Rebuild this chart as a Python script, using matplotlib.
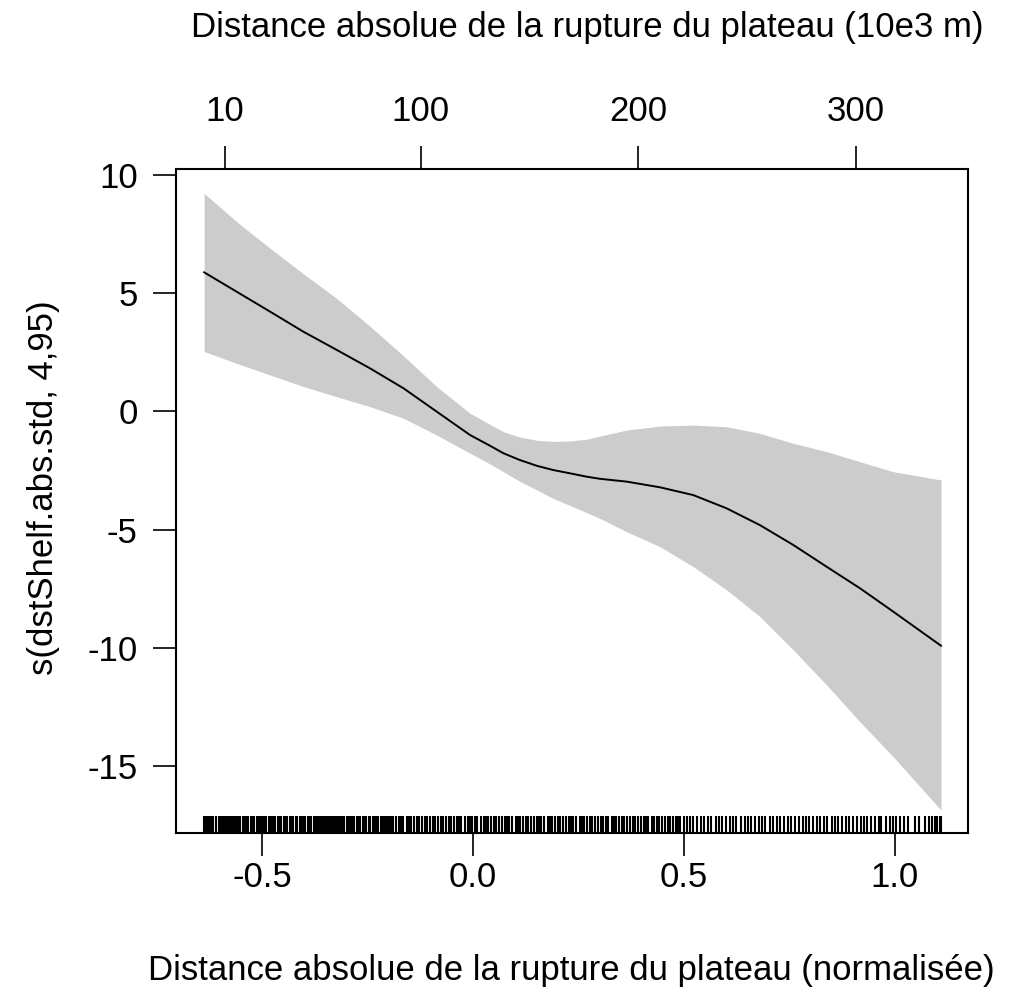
import matplotlib
matplotlib.use("Agg")
import matplotlib.pyplot as plt
import matplotlib.transforms as mtransforms
import numpy as np

plt.rcParams['font.family'] = ['Liberation Sans', 'DejaVu Sans']

# smooth term (normalised distance) and its confidence band
x_std = [-0.637, -0.560, -0.481, -0.402, -0.323, -0.244, -0.165, -0.086, -0.007,
         0.040, 0.072, 0.110, 0.151, 0.190, 0.230, 0.269, 0.300, 0.364, 0.443,
         0.522, 0.601, 0.680, 0.759, 0.838, 0.917, 0.996, 1.109]
fit = [5.88, 5.06, 4.22, 3.37, 2.60, 1.82, 0.98, -0.01, -1.00,
       -1.45, -1.77, -2.05, -2.30, -2.48, -2.62, -2.76, -2.85, -2.97, -3.21,
       -3.54, -4.10, -4.81, -5.65, -6.57, -7.48, -8.47, -9.91]
upper = [9.22, 8.02, 6.90, 5.82, 4.78, 3.60, 2.35, 1.05, -0.08,
         -0.55, -0.86, -1.08, -1.22, -1.27, -1.25, -1.18, -1.05, -0.79, -0.62,
         -0.58, -0.65, -0.93, -1.35, -1.70, -2.13, -2.55, -2.90]
lower = [2.53, 2.03, 1.54, 1.05, 0.62, 0.20, -0.29, -1.00, -1.77,
         -2.22, -2.55, -2.95, -3.32, -3.68, -3.98, -4.28, -4.52, -5.09, -5.72,
         -6.57, -7.55, -8.68, -10.09, -11.57, -13.13, -14.61, -16.86]

# rug of observations
rug_x = [
    -0.637, -0.633, -0.628, -0.624, -0.618, -0.615, -0.610, -0.603, -0.600, -0.595,
    -0.589, -0.586, -0.581, -0.576, -0.571, -0.567, -0.562, -0.556, -0.552, -0.546,
    -0.541, -0.538, -0.533, -0.527, -0.522, -0.518, -0.512, -0.508, -0.502, -0.498,
    -0.493, -0.490, -0.484, -0.478, -0.474, -0.469, -0.463, -0.459, -0.455, -0.448,
    -0.444, -0.440, -0.434, -0.430, -0.426, -0.420, -0.416, -0.411, -0.405, -0.402,
    -0.397, -0.391, -0.388, -0.383, -0.376, -0.373, -0.368, -0.363, -0.359, -0.352,
    -0.349, -0.344, -0.338, -0.335, -0.330, -0.325, -0.320, -0.314, -0.311, -0.306,
    -0.299, -0.296, -0.291, -0.286, -0.281, -0.275, -0.272, -0.267, -0.261, -0.257,
    -0.253, -0.247, -0.243, -0.238, -0.232, -0.229, -0.224, -0.218, -0.214, -0.209,
    -0.203, -0.200, -0.194, -0.189, -0.183, -0.175, -0.170, -0.165, -0.157, -0.151,
    -0.147, -0.139, -0.133, -0.128, -0.121, -0.113, -0.108, -0.103, -0.095, -0.091,
    -0.083, -0.077, -0.072, -0.064, -0.058, -0.053, -0.046, -0.038, -0.033, -0.028,
    -0.020, -0.013, -0.008, -0.002, 0.005, 0.010, 0.018, 0.025, 0.030, 0.036,
    0.043, 0.050, 0.055, 0.061, 0.068, 0.075, 0.081, 0.086, 0.093, 0.101,
    0.106, 0.111, 0.119, 0.126, 0.131, 0.137, 0.144, 0.151, 0.157, 0.162,
    0.169, 0.177, 0.182, 0.187, 0.195, 0.202, 0.207, 0.213, 0.220, 0.227,
    0.233, 0.238, 0.245, 0.253, 0.258, 0.263, 0.271, 0.278, 0.283, 0.289,
    0.296, 0.303, 0.309, 0.314, 0.321, 0.329, 0.334, 0.339, 0.347, 0.354,
    0.359, 0.365, 0.372, 0.379, 0.385, 0.390, 0.397, 0.405, 0.410, 0.415,
    0.423, 0.430, 0.435, 0.441, 0.448, 0.455, 0.461, 0.466, 0.473, 0.481,
    0.486, 0.491, 0.499, 0.508, 0.515, 0.521, 0.531, 0.541, 0.548, 0.556,
    0.565, 0.575, 0.582, 0.590, 0.600, 0.609, 0.617, 0.624, 0.634, 0.644,
    0.651, 0.659, 0.668, 0.678, 0.686, 0.693, 0.703, 0.712, 0.720, 0.728,
    0.737, 0.747, 0.754, 0.762, 0.772, 0.781, 0.789, 0.796, 0.806, 0.816,
    0.823, 0.831, 0.840, 0.850, 0.858, 0.865, 0.875, 0.884, 0.892, 0.900,
    0.909, 0.919, 0.926, 0.934, 0.944, 0.953, 0.961, 0.968, 0.978, 0.988,
    0.995, 1.003, 1.012, 1.022, 1.030, 1.048, 1.058, 1.072, 1.081, 1.088,
    1.094, 1.100, 1.106, 1.110]

# top axis: normalised value -> absolute distance
mean_d = 124.0
sd_d = 194.0
top_ticks = [10, 100, 200, 300]

fs = 25

fig = plt.figure(figsize=(10.10, 10.05), dpi=100)
ax = fig.add_axes([176 / 1010, 1 - 833 / 1005, (968 - 176) / 1010, (833 - 169) / 1005])

ax.fill_between(x_std, lower, upper, color='#cccccc', linewidth=0)
ax.plot(x_std, fit, color='black', linewidth=1.4)

trans = mtransforms.blended_transform_factory(ax.transData, ax.transAxes)
ax.vlines(rug_x, 0, 0.026, transform=trans, color='black', linewidth=1.5)

ax.set_xlim(-0.7038, 1.173)
ax.set_ylim(-17.83, 10.25)
ax.set_xticks([-0.5, 0.0, 0.5, 1.0])
ax.set_xticklabels(['-0.5', '0.0', '0.5', '1.0'])
ax.set_yticks([10, 5, 0, -5, -10, -15])
ax.set_yticklabels(['10', '5', '0', '-5', '-10', '-15'])

for s in ax.spines.values():
    s.set_linewidth(1.5)
ax.tick_params(axis='x', direction='out', length=16.5, width=1.2, labelsize=fs, pad=4)
ax.tick_params(axis='y', direction='out', length=16.5, width=1.2, labelsize=fs, pad=11)

sec = ax.secondary_xaxis('top', functions=(lambda x: mean_d + sd_d * x,
                                           lambda t: (t - mean_d) / sd_d))
sec.set_xticks(top_ticks)
sec.set_xticklabels([str(t) for t in top_ticks])
sec.tick_params(direction='out', length=16.5, width=1.2, labelsize=fs, pad=13)
sec.spines['top'].set_visible(False)

fig.text(0.5 * (143 + 1000) / 1010, 1 - 970 / 1005,
         'Distance absolue de la rupture du plateau (normalisée)',
         ha='center', va='center', fontsize=fs)
fig.text(0.5 * (172 + 1003) / 1010, 1 - 28 / 1005,
         'Distance absolue de la rupture du plateau (10e3 m)',
         ha='center', va='center', fontsize=fs)
fig.text(44 / 1010, 1 - 488 / 1005, 's(dstShelf.abs.std, 4,95)',
         ha='center', va='center', rotation=90, fontsize=fs)

fig.savefig('out.png', dpi=100, facecolor='white')
